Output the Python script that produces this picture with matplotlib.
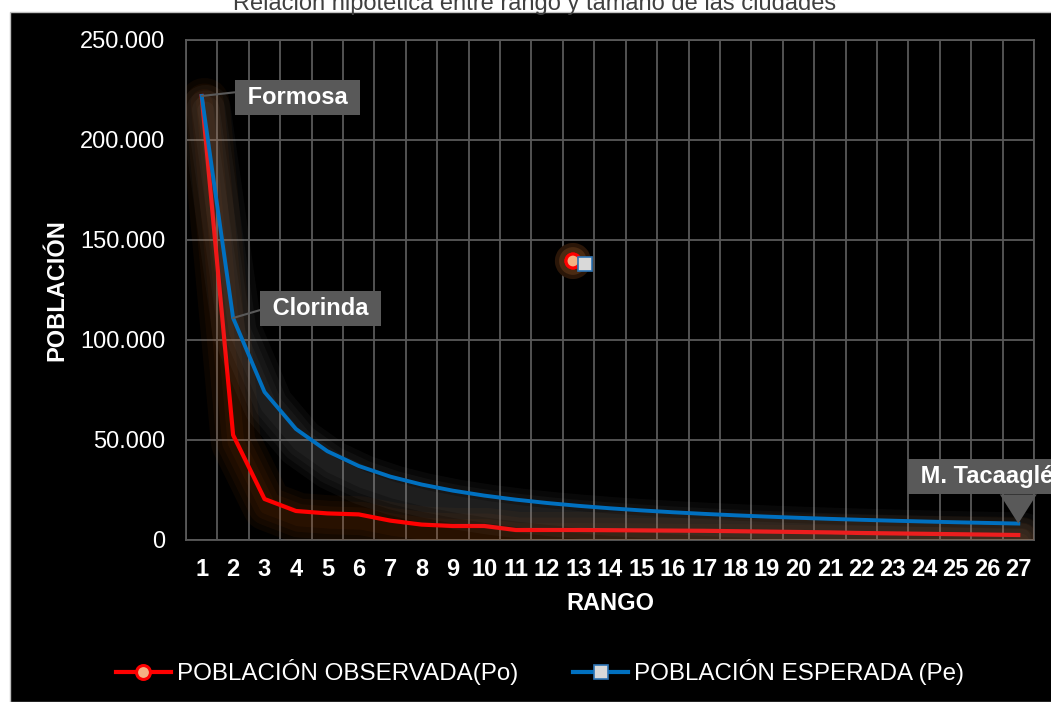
import matplotlib
matplotlib.use('Agg')
import matplotlib.pyplot as plt
import matplotlib.patheffects as pe
from matplotlib.lines import Line2D
from matplotlib.patches import Rectangle

plt.rcParams['font.family'] = ['Liberation Sans', 'DejaVu Sans']

# Rank of each city and its population
rango = [1, 2, 3, 4, 5, 6, 7, 8, 9, 10, 11, 12, 13, 14, 15, 16, 17, 18, 19, 20,
         21, 22, 23, 24, 25, 26, 27]
poblacion_observada = [222000, 52500, 20500, 14500, 13300, 12800, 9700, 7700, 7000,
                       7000, 5000, 5000, 5000, 4900, 4800, 4700, 4600, 4400, 4200,
                       4000, 3800, 3500, 3300, 3100, 2900, 2700, 2500]
poblacion_esperada = [222000, 111000, 74000, 55500, 44400, 37000, 31714, 27750, 24667,
                      22200, 20182, 18500, 17077, 15857, 14800, 13875, 13059, 12333,
                      11684, 11100, 10571, 10091, 9652, 9250, 8880, 8538, 8222]

yticks = [0, 50000, 100000, 150000, 200000, 250000]
ytick_labels = ['0', '50.000', '100.000', '150.000', '200.000', '250.000']

# labelled cities: (name, index into the series)
ciudades = [('Formosa', 0), ('Clorinda', 1), ('M. Tacaaglé', 26)]

# loose legend markers left floating inside the plot
suelto_po = ([12.82], [139500])
suelto_pe = ([13.2], [138000])

ROJO = '#FF0000'
AZUL = '#0070C0'
GRIS = '#595959'

fig = plt.figure(figsize=(10.51, 7.02), dpi=100, facecolor='white')
fondo = Rectangle((10 / 1051, 0), 1, 1 - 12 / 702, transform=fig.transFigure,
                  facecolor='black', edgecolor='#BFBFBF', lw=1, zorder=-10)
fig.patches.append(fondo)

ax = fig.add_axes([186 / 1051, 1 - 540 / 702, 848 / 1051, 500 / 702])
ax.set_facecolor('black')


def halo(color, dx, dy, alpha):
    # soft glow: stack of wide translucent strokes under the line
    capas = [pe.SimpleLineShadow(offset=(dx, dy), shadow_color=color, alpha=alpha,
                                 linewidth=w, joinstyle='round', capstyle='round')
             for w in (36, 28, 20, 12)]
    return capas + [pe.Normal()]


ax.plot(rango, poblacion_observada, color=ROJO, lw=3, zorder=4,
        solid_joinstyle='round', path_effects=halo('#C55A11', 2, -5, 0.06))
ax.plot(rango, poblacion_esperada, color=AZUL, lw=2.8, zorder=5,
        solid_joinstyle='round', path_effects=halo('#A6A6A6', 3, -10, 0.05))

ax.plot(*suelto_po, ls='none', marker='o', ms=10, mfc='#F4B183', mec=ROJO, mew=2.2, zorder=6,
        path_effects=[pe.withStroke(linewidth=16, foreground='#2A1608'),
                      pe.withStroke(linewidth=10, foreground='#4A2A12'), pe.Normal()])
ax.plot(*suelto_pe, ls='none', marker='s', ms=10, mfc='#D9D9D9', mec='#2E75B6', mew=1.2, zorder=7)

ax.set_xlim(0.5, 27.5)
ax.set_ylim(0, 250000)
ax.set_xticks(rango)
ax.set_xticklabels([str(r) for r in rango], fontsize=17, fontweight='bold', color='white')
ax.set_xticks([r + 0.5 for r in [0] + rango], minor=True)
ax.set_yticks(yticks)
ax.set_yticklabels(ytick_labels, fontsize=17, color='white')
ax.tick_params(axis='both', which='both', length=0)
ax.tick_params(axis='x', pad=13)
ax.tick_params(axis='y', pad=15)
ax.grid(True, which='minor', axis='x', color=GRIS, lw=1.3)
ax.grid(True, which='major', axis='y', color=GRIS, lw=1.3)
for s in ax.spines.values():
    s.set_color(GRIS)
    s.set_linewidth(1.3)

ax.set_xlabel('RANGO', fontsize=17, fontweight='bold', color='white')
ax.xaxis.label.set_va('center')
ax.xaxis.set_label_coords(0.5, -0.126)
ax.set_ylabel('POBLACIÓN', fontsize=17, fontweight='bold', color='white')
ax.yaxis.label.set_va('center')
ax.yaxis.set_label_coords(-0.152, 0.5)

# city callouts
caja = dict(boxstyle='square,pad=0.26', fc=GRIS, ec='none')
nombre, i = ciudades[0]
ax.annotate(' ' + nombre + ' ', xy=(rango[i], poblacion_esperada[i]), xytext=(69, -1),
            textcoords='offset points', ha='center', va='center', fontsize=17,
            fontweight='bold', color='white', bbox=caja, zorder=8,
            arrowprops=dict(arrowstyle='-', color=GRIS, lw=1.5, shrinkA=0, shrinkB=0,
                            relpos=(0, 0.75)))
nombre, i = ciudades[1]
ax.annotate(' ' + nombre + ' ', xy=(rango[i], poblacion_esperada[i]), xytext=(63, 7),
            textcoords='offset points', ha='center', va='center', fontsize=17,
            fontweight='bold', color='white', bbox=caja, zorder=8,
            arrowprops=dict(arrowstyle='-', color=GRIS, lw=1.5, shrinkA=0, shrinkB=0,
                            relpos=(0, 0.5)))
nombre, i = ciudades[2]
ax.annotate(' ' + nombre + ' ', xy=(rango[i], poblacion_esperada[i]), xytext=(-75, 34),
            textcoords='offset points', ha='left', va='center', fontsize=17,
            fontweight='bold', color='white', bbox=caja, zorder=8, annotation_clip=False)
ax.annotate('', xy=(rango[i], poblacion_esperada[i]), xytext=(0, 21),
            textcoords='offset points', zorder=8,
            arrowprops=dict(arrowstyle='wedge,tail_width=1.33', mutation_scale=20,
                            fc=GRIS, ec='none', shrinkA=0, shrinkB=0))

handles = [
    Line2D([], [], color=ROJO, lw=3, marker='o', ms=10, mfc='#F4B183', mec=ROJO, mew=2.2),
    Line2D([], [], color=AZUL, lw=3, marker='s', ms=10, mfc='#D9D9D9', mec='#2E75B6', mew=1.2),
]
fig.legend(handles, ['POBLACIÓN OBSERVADA(Po)', 'POBLACIÓN ESPERADA (Pe)'],
           loc='center', bbox_to_anchor=(540 / 1051, 1 - 672 / 702), ncol=2, frameon=False,
           fontsize=17.4, labelcolor='white', handlelength=2.25, handletextpad=0.25,
           columnspacing=2.3)

fig.text(535 / 1051, 1 - 10 / 702, 'Relación hipotética entre rango y tamaño de las ciudades',
         ha='center', va='baseline', fontsize=17, color='#404040')

fig.savefig('out.png', dpi=100, facecolor='white')
